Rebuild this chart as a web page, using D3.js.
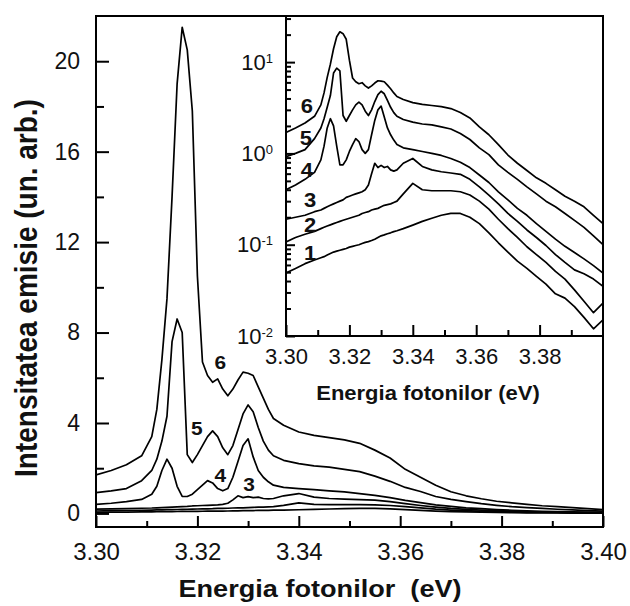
<!DOCTYPE html>
<html lang="ro">
<head>
<meta charset="UTF-8">
<script src="https://d3js.org/d3.v7.min.js"></script>
<title>Spectre de emisie</title>
<style>
  body { margin:0; background:#fff; }
  svg { display:block; }
  text { font-family: "Liberation Sans", Arial, sans-serif; fill:#111; }
  .curve { fill:none; stroke:#000; stroke-width:1.7; stroke-linejoin:round; }
  .frame { fill:none; stroke:#000; stroke-width:2; }
  .tick line { stroke:#000; stroke-width:2; }
</style>
</head>
<body>
<script>
// energia fotonilor (eV)
var energy = [
  3.300, 3.303, 3.306, 3.309, 3.311, 3.312, 3.313, 3.314, 3.315, 3.316,
  3.317, 3.318, 3.319, 3.320, 3.321, 3.322, 3.323, 3.324, 3.325, 3.326,
  3.327, 3.328, 3.329, 3.330, 3.331, 3.332, 3.333, 3.334, 3.335, 3.337,
  3.340, 3.343, 3.346, 3.349, 3.352, 3.355, 3.358, 3.361, 3.364, 3.367,
  3.370, 3.373, 3.376, 3.379, 3.382, 3.385, 3.388, 3.391, 3.394, 3.397,
  3.400];

// intensitatea (un. arb.) pentru spectrele 1..6
var curve1 = [
  0.049, 0.055, 0.062, 0.068, 0.072, 0.074, 0.077, 0.080, 0.083, 0.085,
  0.087, 0.089, 0.091, 0.094, 0.096, 0.098, 0.100, 0.103, 0.106, 0.108,
  0.111, 0.115, 0.120, 0.125, 0.128, 0.132, 0.135, 0.139, 0.142, 0.150,
  0.164, 0.180, 0.195, 0.210, 0.220, 0.220, 0.200, 0.170, 0.135, 0.105,
  0.083, 0.066, 0.055, 0.045, 0.037, 0.029, 0.026, 0.021, 0.016, 0.012,
  0.015];
var curve2 = [
  0.107, 0.120, 0.130, 0.140, 0.150, 0.155, 0.160, 0.165, 0.170, 0.175,
  0.180, 0.185, 0.190, 0.195, 0.200, 0.205, 0.210, 0.220, 0.225, 0.230,
  0.240, 0.245, 0.250, 0.260, 0.270, 0.275, 0.280, 0.290, 0.300, 0.360,
  0.470, 0.400, 0.390, 0.390, 0.390, 0.380, 0.350, 0.300, 0.245, 0.190,
  0.150, 0.120, 0.095, 0.078, 0.064, 0.051, 0.042, 0.032, 0.024, 0.018,
  0.023];
var curve3 = [
  0.19, 0.20, 0.21, 0.23, 0.24, 0.25, 0.26, 0.27, 0.28, 0.29,
  0.30, 0.31, 0.33, 0.34, 0.35, 0.36, 0.37, 0.38, 0.40, 0.45,
  0.60, 0.78, 0.70, 0.74, 0.70, 0.72, 0.66, 0.64, 0.66, 0.78,
  0.88, 0.72, 0.66, 0.63, 0.61, 0.59, 0.52, 0.43, 0.35, 0.28,
  0.22, 0.18, 0.145, 0.12, 0.098, 0.078, 0.064, 0.053, 0.048, 0.042,
  0.035];
var curve4 = [
  0.40, 0.45, 0.52, 0.62, 0.85, 1.20, 1.90, 2.40, 2.00, 1.20,
  0.75, 0.75, 0.85, 1.05, 1.25, 1.45, 1.35, 1.10, 1.00, 1.10,
  1.60, 2.30, 3.00, 3.30, 2.50, 1.90, 1.60, 1.40, 1.25, 1.15,
  1.10, 1.05, 1.00, 0.95, 0.88, 0.80, 0.70, 0.58, 0.48, 0.38,
  0.31, 0.25, 0.21, 0.17, 0.14, 0.115, 0.096, 0.082, 0.070, 0.059,
  0.049];
var curve5 = [
  0.92, 1.00, 1.10, 1.45, 1.90, 2.40, 3.20, 4.30, 7.60, 8.60,
  8.00, 2.60, 2.25, 2.60, 3.00, 3.40, 3.65, 3.40, 2.90, 2.60,
  3.00, 3.70, 4.40, 4.80, 4.50, 3.80, 3.20, 2.80, 2.55, 2.35,
  2.20, 2.10, 2.05, 1.95, 1.85, 1.65, 1.42, 1.15, 0.97, 0.75,
  0.62, 0.52, 0.43, 0.36, 0.30, 0.26, 0.22, 0.185, 0.155, 0.125,
  0.10];
var curve6 = [
  1.70, 1.90, 2.15, 2.55, 3.40, 4.60, 6.80, 9.50, 14.0, 19.0,
  21.5, 20.5, 17.8, 10.5, 6.70, 6.10, 5.80, 5.95, 5.50, 5.20,
  5.50, 5.90, 6.25, 6.20, 6.10, 5.60, 5.10, 4.60, 4.20, 3.90,
  3.60, 3.45, 3.35, 3.25, 3.10, 2.80, 2.45, 1.95, 1.60, 1.25,
  0.96, 0.78, 0.65, 0.54, 0.47, 0.40, 0.34, 0.30, 0.26, 0.21,
  0.17];
var series = [curve1, curve2, curve3, curve4, curve5, curve6];

var mainTicksX = [3.30, 3.32, 3.34, 3.36, 3.38, 3.40];
var mainMinorX = [3.31, 3.33, 3.35, 3.37, 3.39];
var mainTicksY = [0, 4, 8, 12, 16, 20];
var mainMinorY = [2, 6, 10, 14, 18];
var insetTicksX = [3.30, 3.32, 3.34, 3.36, 3.38];
var insetMinorX = [3.31, 3.33, 3.35, 3.37, 3.39];
var insetTicksY = [0.01, 0.1, 1, 10];
var insetExp = ["-2", "-1", "0", "1"];
var insetMinorY = [0.02,0.03,0.04,0.05,0.06,0.07,0.08,0.09,
                   0.2,0.3,0.4,0.5,0.6,0.7,0.8,0.9,
                   2,3,4,5,6,7,8,9, 20,30];

// etichetele curbelor (pozitii in unitati de date)
var mainLabels = [{id:"6", e:3.3245, v:6.7}, {id:"5", e:3.3199, v:3.78},
                  {id:"4", e:3.3245, v:1.70}, {id:"3", e:3.3302, v:1.27}];
var insetLabels = [{id:"6", e:3.3066, v:3.3}, {id:"5", e:3.3063, v:1.47},
                   {id:"4", e:3.3066, v:0.66}, {id:"3", e:3.3076, v:0.31},
                   {id:"2", e:3.3076, v:0.164}, {id:"1", e:3.3076, v:0.081}];

var width = 630, height = 606;
var M = {left:96, right:603, top:16, bottom:527};
var I = {left:286, right:603, top:16, bottom:336};

var x = d3.scaleLinear().domain([3.30, 3.40]).range([M.left, M.right]);
var y = d3.scaleLinear().domain([-0.6, 22]).range([M.bottom, M.top]);
var xi = d3.scaleLinear().domain([3.30, 3.40]).range([I.left, I.right]);
var yi = d3.scaleLog().domain([0.01, 32]).range([I.bottom, I.top]);

var svg = d3.select("body").append("svg").attr("width", width).attr("height", height);
var defs = svg.append("defs");
defs.append("clipPath").attr("id","clipMain").append("rect")
    .attr("x",M.left).attr("y",M.top).attr("width",M.right-M.left).attr("height",M.bottom-M.top);
defs.append("clipPath").attr("id","clipInset").append("rect")
    .attr("x",I.left).attr("y",I.top).attr("width",I.right-I.left).attr("height",I.bottom-I.top);

function stretchText(g, px, py, txt, size, sx, bold) {
  return g.append("text")
    .attr("transform", "translate(" + px + "," + py + ") scale(" + sx + ",1)")
    .attr("text-anchor", "middle").attr("dy", "0.35em")
    .style("font-size", size + "px").style("font-weight", bold ? "bold" : "normal")
    .text(txt);
}

// ---- grafic principal ----
var lineMain = d3.line().x(function(d,i){ return x(energy[i]); }).y(function(d){ return y(d); });
svg.append("g").attr("clip-path","url(#clipMain)")
  .selectAll("path").data(series).enter().append("path")
  .attr("class","curve").attr("d", lineMain);

var gx = svg.append("g").attr("transform","translate(0,"+M.bottom+")")
  .call(d3.axisBottom(x).tickValues(mainTicksX).tickSize(-11).tickSizeOuter(0)
        .tickPadding(16).tickFormat(d3.format(".2f")));
gx.select(".domain").remove();
gx.selectAll("text").style("font-size","24px").attr("fill","#111");
var gxm = svg.append("g").attr("transform","translate(0,"+M.bottom+")")
  .call(d3.axisBottom(x).tickValues(mainMinorX).tickSize(-6).tickSizeOuter(0).tickFormat(""));
gxm.select(".domain").remove();

var gy = svg.append("g").attr("transform","translate("+M.left+",0)")
  .call(d3.axisLeft(y).tickValues(mainTicksY).tickSize(-13).tickSizeOuter(0).tickPadding(16));
gy.select(".domain").remove();
gy.selectAll("text").style("font-size","23px").attr("fill","#111");
var gym = svg.append("g").attr("transform","translate("+M.left+",0)")
  .call(d3.axisLeft(y).tickValues(mainMinorY).tickSize(-8).tickSizeOuter(0).tickFormat(""));
gym.select(".domain").remove();

mainLabels.forEach(function(l){ stretchText(svg, x(l.e), y(l.v), l.id, 19, 1.1, true); });

// ---- grafic inserat (scara logaritmica) ----
svg.append("rect").attr("x",I.left).attr("y",I.top)
  .attr("width",I.right-I.left).attr("height",I.bottom-I.top).attr("fill","#fff");

var lineInset = d3.line().x(function(d,i){ return xi(energy[i]); }).y(function(d){ return yi(d); });
svg.append("g").attr("clip-path","url(#clipInset)")
  .selectAll("path").data(series).enter().append("path")
  .attr("class","curve").attr("d", lineInset);

var gix = svg.append("g").attr("transform","translate(0,"+I.bottom+")")
  .call(d3.axisBottom(xi).tickValues(insetTicksX).tickSize(-11).tickSizeOuter(0)
        .tickPadding(12).tickFormat(d3.format(".2f")));
gix.select(".domain").remove();
gix.selectAll("text").style("font-size","22px").attr("fill","#111");
var gixm = svg.append("g").attr("transform","translate(0,"+I.bottom+")")
  .call(d3.axisBottom(xi).tickValues(insetMinorX).tickSize(-6).tickSizeOuter(0).tickFormat(""));
gixm.select(".domain").remove();

var giy = svg.append("g").attr("transform","translate("+I.left+",0)")
  .call(d3.axisLeft(yi).tickValues(insetTicksY).tickSize(-9).tickSizeOuter(0)
        .tickPadding(13).tickFormat(""));
giy.select(".domain").remove();
giy.selectAll(".tick text").each(function(d,i){
  var t = d3.select(this).attr("fill","#111").style("font-size","22px");
  t.append("tspan").text("10");
  t.append("tspan").attr("dy","-7").style("font-size","13px").text(insetExp[i]);
});
var giym = svg.append("g").attr("transform","translate("+I.left+",0)")
  .call(d3.axisLeft(yi).tickValues(insetMinorY).tickSize(-5).tickSizeOuter(0).tickFormat(""));
giym.select(".domain").remove();

svg.append("rect").attr("class","frame").attr("x",I.left).attr("y",I.top)
  .attr("width",I.right-I.left).attr("height",I.bottom-I.top);

insetLabels.forEach(function(l){ stretchText(svg, xi(l.e), yi(l.v), l.id, 20, 1.1, true); });

svg.append("text").attr("transform","translate(428,400) scale(1.1,1)")
  .attr("text-anchor","middle").style("font-size","20px").style("font-weight","bold")
  .text("Energia fotonilor (eV)");

// ---- cadru si titluri axe ----
svg.append("rect").attr("class","frame").attr("x",M.left).attr("y",M.top)
  .attr("width",M.right-M.left).attr("height",M.bottom-M.top);

svg.append("text").attr("transform","translate(320,597) scale(1.13,1)")
  .attr("text-anchor","middle").style("font-size","24px").style("font-weight","bold")
  .style("white-space","pre").attr("xml:space","preserve")
  .text("Energia fotonilor  (eV)");

svg.append("text").attr("transform","translate(37,288) rotate(-90) scale(1,1.15)")
  .attr("text-anchor","middle").style("font-size","28px").style("font-weight","bold")
  .text("Intensitatea emisie (un. arb.)");
</script>
</body>
</html>
